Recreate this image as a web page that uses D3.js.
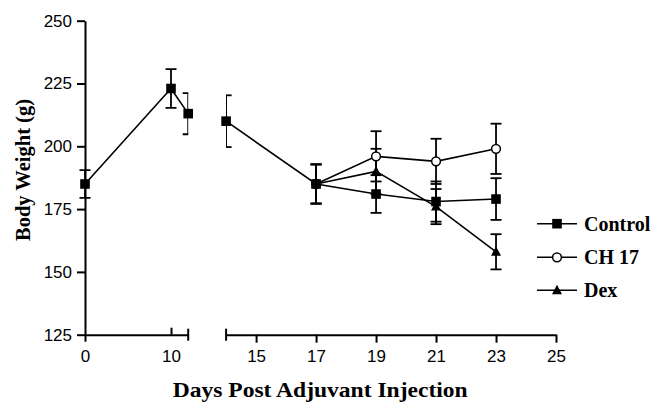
<!DOCTYPE html>
<html><head><meta charset="utf-8">
<script src="https://cdn.jsdelivr.net/npm/d3@7"></script>
<style>body{margin:0;background:#fff}</style>
</head><body>
<svg id="c" width="656" height="403"></svg>
<script>
const days = [0, 10, 12, 14, 17, 19, 21, 23];
const controlVals = [185, 223, 213, 210, 185, 181, 178, 179];
const controlErr = [5.5, 7.7, 8.2, 10.3, 7.8, 7.5, 8, 8.3];
const treatDays = [17, 19, 21, 23];
const ch17Vals = [185, 196, 194, 199];
const ch17Err = [7.8, 10, 9, 10];
const dexVals = [185, 190, 176, 158];
const dexErr = [7.8, 9, 7, 7];
const yTicks = [125, 150, 175, 200, 225, 250];
const xTicksLeft = [0, 10];
const xTicksRight = [15, 17, 19, 21, 23, 25];
const legendLabels = ["Control", "CH 17", "Dex"];

const svg = d3.select("#c");
const y = d3.scaleLinear().domain([125, 250]).range([334.7, 20.7]);
const xL = d3.scaleLinear().domain([0, 12]).range([85, 188.2]);
const xR = d3.scaleLinear().domain([14, 25]).range([226.1, 556]);
const breakAt = 13;
const xOf = d => d < breakAt ? xL(d) : xR(d);

const defs = svg.append("defs");
defs.append("clipPath").attr("id", "clipL").append("rect")
  .attr("x", 0).attr("y", 0).attr("width", xL(12)).attr("height", 403);
defs.append("clipPath").attr("id", "clipR").append("rect")
  .attr("x", xR(14)).attr("y", 0).attr("width", 656 - xR(14)).attr("height", 403);

// Axes
const yAxis = d3.axisLeft(y).tickValues(yTicks).tickSize(8).tickPadding(5).tickSizeOuter(0);
const gy = svg.append("g").attr("transform", `translate(${xL(0)},0)`).call(yAxis);
const gxl = svg.append("g").attr("transform", `translate(0,${y(125)})`)
  .call(d3.axisBottom(xL).tickValues(xTicksLeft).tickSize(7).tickPadding(8).tickSizeOuter(0));
gxl.selectAll(".tick").filter(d => d === 10).select("line").attr("y2", -7);
gxl.append("line").attr("x1", xL(12)).attr("x2", xL(12)).attr("y1", -6).attr("y2", 6);
const gxr = svg.append("g").attr("transform", `translate(0,${y(125)})`)
  .call(d3.axisBottom(xR).tickValues(xTicksRight).tickSize(8).tickPadding(7).tickSizeOuter(0));
gxr.append("line").attr("x1", xR(14)).attr("x2", xR(14)).attr("y1", -6).attr("y2", 6);

svg.selectAll(".domain, .tick line, g > line").attr("stroke", "#000").attr("stroke-width", 2);
svg.selectAll(".tick text").attr("font-family", "Liberation Sans, Arial, sans-serif")
  .attr("font-size", 17).attr("fill", "#000");

// Titles
svg.append("text").attr("x", 172.7).attr("y", 397)
  .attr("textLength", 295).attr("lengthAdjust", "spacingAndGlyphs")
  .attr("font-family", "Liberation Serif, Times New Roman, serif").attr("font-weight", "bold")
  .attr("font-size", 21).text("Days Post Adjuvant Injection");
svg.append("text").attr("transform", "translate(30,170) rotate(-90)")
  .attr("text-anchor", "middle")
  .attr("font-family", "Liberation Serif, Times New Roman, serif").attr("font-weight", "bold")
  .attr("font-size", 20.5).text("Body Weight (g)");

// series
const mk = (ds, vs, es) => ds.map((d, i) => ({ d, v: vs[i], e: es[i] }));
const control = mk(days, controlVals, controlErr);
const ch17 = mk(treatDays, ch17Vals, ch17Err);
const dex = mk(treatDays, dexVals, dexErr);

const line = d3.line().x(p => xOf(p.d)).y(p => y(p.v));
function drawSeries(data, shape) {
  const g = svg.append("g");
  const segs = [data.filter(p => p.d < breakAt), data.filter(p => p.d >= breakAt)];
  segs.forEach(s => {
    if (s.length > 1) g.append("path").attr("d", line(s)).attr("fill", "none")
      .attr("stroke", "#000").attr("stroke-width", 1.6);
  });
  const eb = g.selectAll(".eb").data(data).enter().append("g")
    .attr("clip-path", p => p.d < breakAt ? "url(#clipL)" : "url(#clipR)");
  eb.append("line").attr("x1", p => xOf(p.d)).attr("x2", p => xOf(p.d))
    .attr("y1", p => y(p.v + p.e)).attr("y2", p => y(p.v - p.e));
  eb.append("line").attr("x1", p => xOf(p.d) - 5.5).attr("x2", p => xOf(p.d) + 5.5)
    .attr("y1", p => y(p.v + p.e)).attr("y2", p => y(p.v + p.e));
  eb.append("line").attr("x1", p => xOf(p.d) - 5.5).attr("x2", p => xOf(p.d) + 5.5)
    .attr("y1", p => y(p.v - p.e)).attr("y2", p => y(p.v - p.e));
  eb.selectAll("line").attr("stroke", "#000").attr("stroke-width", 1.8);
  data.forEach(p => drawMarker(g, shape, xOf(p.d), y(p.v)));
}
function drawMarker(g, shape, cx, cy) {
  if (shape === "square") {
    g.append("rect").attr("x", cx - 4.8).attr("y", cy - 4.8).attr("width", 9.6).attr("height", 9.6).attr("fill", "#000");
  } else if (shape === "circle") {
    g.append("circle").attr("cx", cx).attr("cy", cy).attr("r", 4.4).attr("fill", "#fff")
      .attr("stroke", "#000").attr("stroke-width", 1.5);
  } else {
    g.append("path").attr("d", `M${cx},${cy - 5.5}L${cx + 5},${cy + 4}L${cx - 5},${cy + 4}Z`).attr("fill", "#000");
  }
}
drawSeries(dex, "triangle");
drawSeries(ch17, "circle");
drawSeries(control, "square");

// legend
const shapes = ["square", "circle", "triangle"];
const legY = [223.7, 257.3, 290.3];
const lg = svg.append("g");
legendLabels.forEach((lab, i) => {
  lg.append("line").attr("x1", 537).attr("x2", 577).attr("y1", legY[i]).attr("y2", legY[i])
    .attr("stroke", "#000").attr("stroke-width", 1.6);
  drawMarker(lg, shapes[i], 557, legY[i]);
  lg.append("text").attr("x", 584).attr("y", legY[i] + 7)
    .attr("font-family", "Liberation Serif, Times New Roman, serif").attr("font-weight", "bold")
    .attr("font-size", 20).text(lab);
});
</script>
</body></html>
